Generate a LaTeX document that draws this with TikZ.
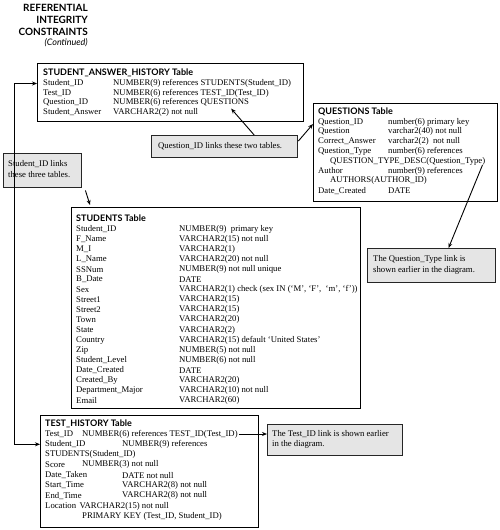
\documentclass[tikz,border=0pt]{standalone}
\usepackage{fontspec}
\setmainfont{Liberation Serif}
\newfontfamily\hdfont{Lato}
\usetikzlibrary{arrows.meta,calc}
\begin{document}
\begin{tikzpicture}[x=1pt,y=-1pt,
  tblbox/.style={draw=black, line width=1.2pt, anchor=north west, inner sep=0pt},
  callbox/.style={draw=black!85, line width=1.4pt, fill=black!10, anchor=north west, inner sep=0pt},
  tx/.style={anchor=west, inner sep=0pt, font=\fontsize{8.7}{10}\selectfont},
  hd/.style={anchor=west, inner sep=0pt, font=\hdfont\bfseries\fontsize{9}{10}\selectfont},
  ttl/.style={anchor=east, inner sep=0pt, font=\hdfont\bfseries\fontsize{10}{11}\selectfont},
  arr/.style={-{Stealth[length=5pt,width=4pt]}, line width=0.9pt},
  arrb/.style={{Stealth[length=5pt,width=4pt]}-{Stealth[length=5pt,width=4pt]}, line width=0.9pt}
]
\useasboundingbox (0,0) rectangle (500,530);

% ---------- title block
\node[ttl] (t1) at (88,8) {REFERENTIAL};
\node[ttl] (t2) at (88,20) {INTEGRITY};
\node[ttl] (t3) at (88,31.5) {CONSTRAINTS};
\node[anchor=east, inner sep=0pt, font=\hdfont\itshape\fontsize{9}{10}\selectfont] (t4) at (88,43) {(Continued)};

% ---------- STUDENT_ANSWER_HISTORY
\node[tblbox, minimum width=266pt, minimum height=58pt] (sah) at (37,63) {};
\node[hd] (sahh) at (43,73) {STUDENT\_ANSWER\_HISTORY Table};
\node[tx] (sa1) at (43,83.5) {Student\_ID};
\node[tx] (sa1t) at (113,83.5) {NUMBER(9) references STUDENTS(Student\_ID)};
\node[tx] (sa2) at (43,93) {Test\_ID};
\node[tx] (sa2t) at (113,93) {NUMBER(6) references TEST\_ID(Test\_ID)};
\node[tx] (sa3) at (43,102.5) {Question\_ID};
\node[tx] (sa3t) at (113,102.5) {NUMBER(6) references QUESTIONS};
\node[tx] (sa4) at (43,112) {Student\_Answer};
\node[tx] (sa4t) at (113,112) {VARCHAR2(2) not null};

% ---------- QUESTIONS
\node[tblbox, minimum width=184pt, minimum height=98pt] (qb) at (313,103) {};
\node[hd] (qh) at (318,112) {QUESTIONS Table};
\node[tx] (q1) at (318,122) {Question\_ID};
\node[tx] (q1t) at (388,122) {number(6) primary key};
\node[tx] (q2) at (318,131.8) {Question};
\node[tx] (q2t) at (388,131.8) {varchar2(40) not null};
\node[tx] (q3) at (318,141.6) {Correct\_Answer};
\node[tx] (q3t) at (388,141.6) {varchar2(2)\ \ not null};
\node[tx] (q4) at (318,151.4) {Question\_Type};
\node[tx] (q4t) at (388,151.4) {number(6) references};
\node[tx] (q5) at (330,161.2) {QUESTION\_TYPE\_DESC(Question\_Type)};
\node[tx] (q6) at (318,171) {Author};
\node[tx] (q6t) at (388,171) {number(9) references};
\node[tx] (q7) at (330,180.8) {AUTHORS(AUTHOR\_ID)};
\node[tx] (q8) at (318,190.6) {Date\_Created};
\node[tx] (q8t) at (388,190.6) {DATE};

% ---------- callout: Question_ID
\node[callbox, minimum width=146pt, minimum height=22pt] (qc) at (151,135) {};
\node[tx] (qct) at (158,146) {Question\_ID links these two tables.};

% ---------- callout: Student_ID
\node[callbox, minimum width=78pt, minimum height=34pt] (sc) at (3,153) {};
\node[tx] (sct1) at (8,164) {Student\_ID links};
\node[tx] (sct2) at (8,175) {these three tables.};

% ---------- STUDENTS
\node[tblbox, minimum width=289pt, minimum height=201pt] (st) at (71,207) {};
\node[hd] (sth) at (76,218) {STUDENTS Table};
\foreach \n/\a/\b in {0/Student\_ID/{NUMBER(9)\ \ primary key},
  1/F\_Name/{VARCHAR2(15) not null},
  2/M\_I/{VARCHAR2(1)},
  3/L\_Name/{VARCHAR2(20) not null},
  4/SSNum/{NUMBER(9) not null unique},
  5/B\_Date/{DATE},
  6/Sex/{VARCHAR2(1) check (sex IN (‘M’, ‘F’,\ \ ‘m’, ‘f’))},
  7/Street1/{VARCHAR2(15)},
  8/Street2/{VARCHAR2(15)},
  9/Town/{VARCHAR2(20)},
  10/State/{VARCHAR2(2)},
  11/Country/{VARCHAR2(15) default ‘United States’},
  12/Zip/{NUMBER(5) not null},
  13/Student\_Level/{NUMBER(6) not null},
  14/Date\_Created/{DATE},
  15/Created\_By/{VARCHAR2(20)},
  16/Department\_Major/{VARCHAR2(10) not null},
  17/Email/{VARCHAR2(60)}}{
  \node[tx] (sn\n) at (76,229+10.1*\n) {\a};
  \node[tx] (stt\n) at (179,229+10.1*\n) {\b};
}

% ---------- callout: Question_Type
\node[callbox, minimum width=128pt, minimum height=34pt] (qtc) at (367,248) {};
\node[tx] (qtct1) at (373,259) {The Question\_Type link is};
\node[tx] (qtct2) at (373,270) {shown earlier in the diagram.};

% ---------- TEST_HISTORY
\node[tblbox, minimum width=218pt, minimum height=112pt] (th) at (40,415) {};
\node[hd] (thh) at (45,424) {TEST\_HISTORY Table};
\node[tx] (h1) at (45,434) {Test\_ID};
\node[tx] (h1t) at (82,434) {NUMBER(6) references TEST\_ID(Test\_ID)};
\node[tx] (h2) at (45,444.3) {Student\_ID};
\node[tx] (h2t) at (122,444.3) {NUMBER(9) references};
\node[tx] (h3) at (45,454.6) {STUDENTS(Student\_ID)};
\node[tx] (h4) at (45,464.9) {Score};
\node[tx] (h4t) at (82,464.9) {NUMBER(3) not null};
\node[tx] (h5) at (45,475.2) {Date\_Taken};
\node[tx] (h5t) at (122,475.2) {DATE not null};
\node[tx] (h6) at (45,485.5) {Start\_Time};
\node[tx] (h6t) at (122,485.5) {VARCHAR2(8) not null};
\node[tx] (h7) at (45,495.8) {End\_Time};
\node[tx] (h7t) at (122,495.8) {VARCHAR2(8) not null};
\node[tx] (h8) at (45,506.1) {Location};
\node[tx] (h8t) at ($(h8.east)+(3,0)$) {VARCHAR2(15) not null};
\node[tx] (h9) at (82,516.4) {PRIMARY KEY (Test\_ID, Student\_ID)};

% ---------- callout: Test_ID
\node[callbox, minimum width=135pt, minimum height=31pt] (tc) at (267,424) {};
\node[tx] (tct1) at (272,434.5) {The Test\_ID link is shown earlier};
\node[tx] (tct2) at (272,444.5) {in the diagram.};

% ---------- connectors
\coordinate (lx) at (14,0);
\draw[arrb] (sah.west |- sa1) -- (lx |- sa1) -- (lx |- h2) -- (th.west |- h2);
\draw[arr] ($(qc.north west)!0.70!(qc.north east)$) -- ($(sa3t.south east)+(-18,2)$);
\draw[arr] ($(qc.north east)+(0,6)$) -- ($(qb.west |- q1)+(0,2)$);
\draw[arr] ($(q5.east)+(-3,4)$) -- ($(qtc.north west)!0.63!(qtc.north east)$);
\draw[arr] ($(sc.south east)+(3,2)$) -- ($(st.north west)+(19,-2)$);
\draw[arr] ($(h1t.east)+(1,0)$) -- (tc.west |- h1t);
\end{tikzpicture}
\end{document}
